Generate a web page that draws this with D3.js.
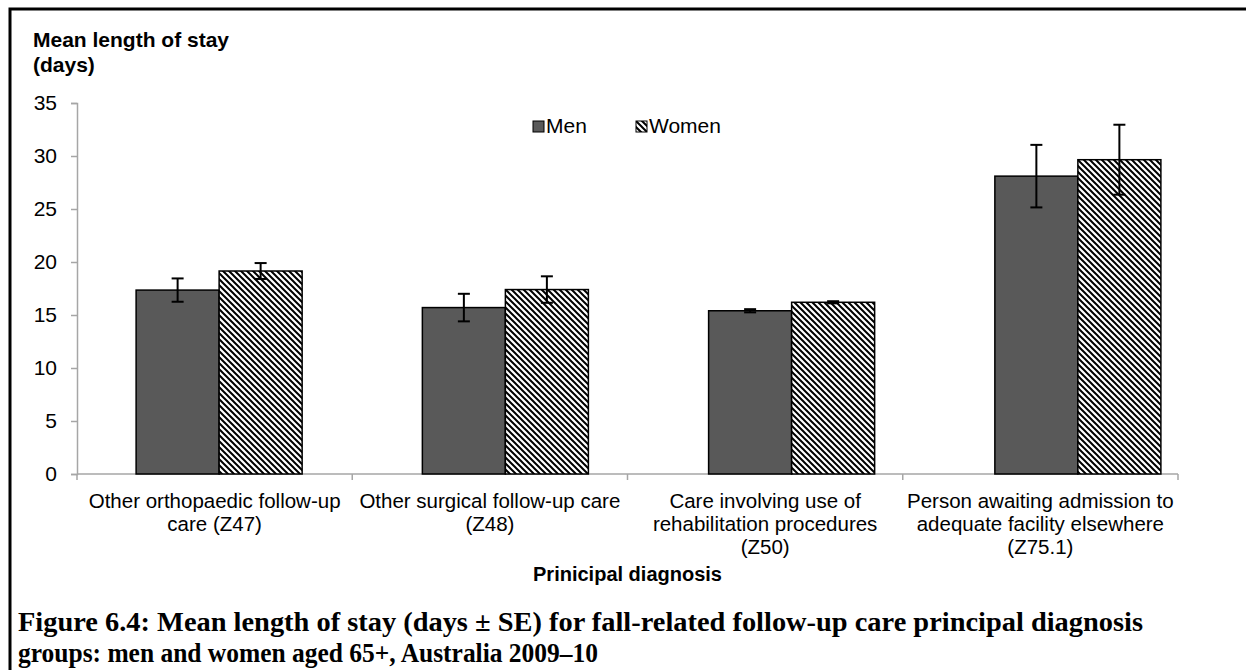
<!DOCTYPE html>
<html>
<head>
<meta charset="utf-8">
<script src="https://cdn.jsdelivr.net/npm/d3@7"></script>
<style>
body { margin:0; background:#fff; }
text { font-family: "Liberation Sans", Arial, sans-serif; }
.caption { font-family: "Liberation Serif", "DejaVu Serif", serif; font-weight:bold; }
</style>
</head>
<body>
<div id="chart"></div>
<script>
// categories and values
var categories = [
  ['Other orthopaedic follow-up', 'care (Z47)'],
  ['Other surgical follow-up care', '(Z48)'],
  ['Care involving use of', 'rehabilitation procedures', '(Z50)'],
  ['Person awaiting admission to', 'adequate facility elsewhere', '(Z75.1)']
];
var series = ['Men', 'Women'];
var menMean = [17.35, 15.7, 15.4, 28.1];
var menSE = [1.1, 1.3, 0.15, 2.95];
var womenMean = [19.15, 17.4, 16.2, 29.65];
var womenSE = [0.75, 1.25, 0.1, 3.3];
var yTicks = [0, 5, 10, 15, 20, 25, 30, 35];

var width = 1246, height = 670;
var svg = d3.select('#chart').append('svg')
            .attr('width', width)
            .attr('height', height);

//hatch pattern, lines running down to the right
var defs = svg.append('defs');
var pat = defs.append('pattern')
              .attr('id', 'hatch')
              .attr('patternUnits', 'userSpaceOnUse')
              .attr('width', 6)
              .attr('height', 6);
pat.append('rect').attr('width', 6).attr('height', 6).attr('fill', '#fff');
pat.append('path')
   .attr('d', 'M-1,-1L7,7M-1,5L1,7M5,-1L7,1')
   .attr('stroke', '#000').attr('stroke-width', 2);

// frame
svg.append('path')
   .attr('d', 'M10,670 V9 H1246')
   .attr('fill', 'none')
   .attr('stroke', '#000')
   .attr('stroke-width', 3);

var plotLeft = 77, plotRight = 1178, plotTop = 103, plotBottom = 474;

var yScale = d3.scaleLinear().domain([0, 35]).range([plotBottom, plotTop]);
var xAxisScale = d3.scaleBand().domain(d3.range(categories.length))
                   .range([plotLeft, plotRight]);
var xBar = d3.scaleBand().domain(d3.range(categories.length))
             .range([76, 1221]).paddingInner(0.42).paddingOuter(0.21);
var xSub = d3.scaleBand().domain(series).range([0, xBar.bandwidth()]);

// y axis
var yAxis = d3.axisLeft(yScale).tickValues(yTicks).tickSize(6).tickPadding(14);
var yAxisG = svg.append('g')
                .attr('transform', 'translate(' + plotLeft + ',0)')
                .call(yAxis);
yAxisG.select('.domain').attr('stroke', '#a6a6a6').attr('stroke-width', 1.5);
yAxisG.selectAll('.tick line').attr('stroke', '#a6a6a6').attr('stroke-width', 1.5);
yAxisG.selectAll('.tick text')
      .attr('font-size', 21)
      .attr('fill', '#000')
      .style('font-family', '"Liberation Sans", Arial, sans-serif');

// x axis (tick marks between categories)
var xAxisG = svg.append('g');
xAxisG.append('line')
      .attr('x1', plotLeft).attr('x2', plotRight)
      .attr('y1', plotBottom).attr('y2', plotBottom)
      .attr('stroke', '#a6a6a6').attr('stroke-width', 1.5);
xAxisG.selectAll('.xt')
      .data(d3.range(categories.length + 1))
      .enter().append('line')
      .attr('class', 'xt')
      .attr('x1', function(d){ return d < categories.length ? xAxisScale(d) : plotRight; })
      .attr('x2', function(d){ return d < categories.length ? xAxisScale(d) : plotRight; })
      .attr('y1', plotBottom).attr('y2', plotBottom + 6)
      .attr('stroke', '#a6a6a6').attr('stroke-width', 1.5);

var catText = xAxisG.selectAll('.cat')
      .data(categories)
      .enter().append('text')
      .attr('class', 'cat')
      .attr('text-anchor', 'middle')
      .attr('font-size', 20.5)
      .attr('x', function(d, i){ return xAxisScale(i) + xAxisScale.bandwidth() / 2; });
catText.selectAll('tspan')
       .data(function(d){ return d; })
       .enter().append('tspan')
       .attr('x', function(){ return d3.select(this.parentNode).attr('x'); })
       .attr('y', function(d, j){ return 508 + j * 23; })
       .text(function(d){ return d; });

// bars
var bars = svg.append('g');
categories.forEach(function(c, i){
  var rows = [
    {s: 'Men', v: menMean[i], se: menSE[i]},
    {s: 'Women', v: womenMean[i], se: womenSE[i]}
  ];
  rows.forEach(function(r){
    var x = xBar(i) + xSub(r.s);
    bars.append('rect')
        .attr('x', x)
        .attr('y', yScale(r.v))
        .attr('width', xSub.bandwidth())
        .attr('height', yScale(0) - yScale(r.v))
        .attr('fill', r.s === 'Men' ? '#595959' : 'url(#hatch)')
        .attr('stroke', '#000')
        .attr('stroke-width', 1.5);
  });
  rows.forEach(function(r){
    var cx = xBar(i) + xSub(r.s) + xSub.bandwidth() / 2;
    var eb = bars.append('g').attr('stroke', '#000').attr('stroke-width', 2);
    eb.append('line')
      .attr('x1', cx).attr('x2', cx)
      .attr('y1', yScale(r.v + r.se)).attr('y2', yScale(r.v - r.se));
    [r.v + r.se, r.v - r.se].forEach(function(v){
      eb.append('line')
        .attr('x1', cx - 6).attr('x2', cx + 6)
        .attr('y1', yScale(v)).attr('y2', yScale(v));
    });
  });
});

// legend
var legend = svg.append('g').attr('transform', 'translate(533,121)');
series.forEach(function(s, i){
  var lg = legend.append('g').attr('transform', 'translate(' + (i * 103) + ',0)');
  lg.append('rect')
    .attr('x', 0).attr('y', 0)
    .attr('width', 11).attr('height', 11)
    .attr('fill', s === 'Men' ? '#595959' : 'url(#hatch)')
    .attr('stroke', '#000').attr('stroke-width', 1);
  lg.append('text')
    .attr('x', 13).attr('y', 12)
    .attr('font-size', 21)
    .text(s);
});

// axis titles
svg.append('text')
   .attr('x', 33).attr('y', 47)
   .attr('font-size', 21).attr('font-weight', 'bold')
   .text('Mean length of stay');
svg.append('text')
   .attr('x', 33).attr('y', 72)
   .attr('font-size', 21).attr('font-weight', 'bold')
   .text('(days)');
svg.append('text')
   .attr('x', (plotLeft + plotRight) / 2).attr('y', 581)
   .attr('text-anchor', 'middle')
   .attr('font-size', 20).attr('font-weight', 'bold')
   .text('Prinicipal diagnosis');

// caption
svg.append('text')
   .attr('class', 'caption')
   .attr('x', 18).attr('y', 631)
   .attr('font-size', 27)
   .attr('textLength', 1125)
   .attr('lengthAdjust', 'spacingAndGlyphs')
   .text('Figure 6.4: Mean length of stay (days \u00b1 SE) for fall-related follow-up care principal diagnosis');
svg.append('text')
   .attr('class', 'caption')
   .attr('x', 18).attr('y', 662)
   .attr('font-size', 27)
   .attr('textLength', 580)
   .attr('lengthAdjust', 'spacingAndGlyphs')
   .text('groups: men and women aged 65+, Australia 2009\u201310');
</script>
</body>
</html>
